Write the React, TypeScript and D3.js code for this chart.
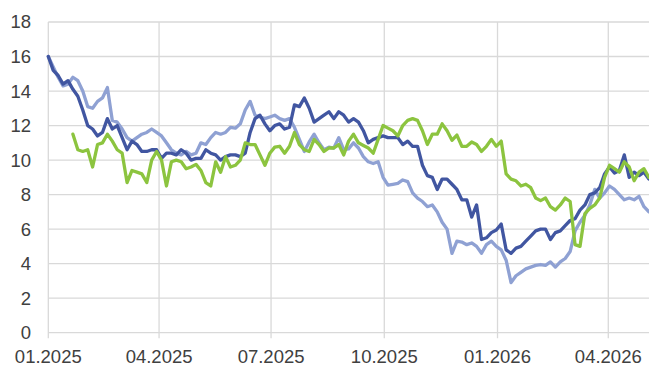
import React from 'react';
import * as d3 from 'd3';

// ---- data ----
const startDate = new Date(2025, 0, 1);
const endDate = new Date(2026, 4, 4);
const stepDays = 4;
const xTickDates = ['2025-01-01', '2025-04-01', '2025-07-01', '2025-10-01', '2026-01-01', '2026-04-01'];
const xTickLabels = ['01.2025', '04.2025', '07.2025', '10.2025', '01.2026', '04.2026'];
const yTicks = [0, 2, 4, 6, 8, 10, 12, 14, 16, 18];

const darkBlue: number[] = [
  16.0, 15.2, 14.9, 14.4, 14.6, 14.1, 13.7, 12.9, 12.0, 11.8,
  11.4, 11.6, 12.4, 11.8, 12.0, 11.3, 10.6, 11.1, 10.9, 10.5,
  10.5, 10.6, 10.6, 10.1, 10.4, 10.4, 10.3, 10.6, 10.4, 10.0,
  10.1, 10.1, 10.6, 10.4, 10.3, 10.0, 10.2, 10.3, 10.3, 10.2,
  10.4, 11.6, 12.4, 12.6, 12.1, 11.7, 12.0, 12.1, 11.8, 11.9,
  13.2, 13.1, 13.6, 13.0, 12.2, 12.4, 12.6, 12.8, 12.4, 12.8,
  12.6, 12.2, 12.4, 12.2, 11.7, 11.0, 11.2, 11.3, 11.4, 11.3,
  11.3, 11.3, 10.9, 11.1, 10.8, 10.8, 9.7, 9.1, 9.0, 8.3,
  8.9, 8.9, 8.6, 8.3, 7.7, 7.7, 6.7, 7.4, 5.4, 5.5,
  5.8, 5.95, 6.3, 4.8, 4.6, 4.9, 5.0, 5.3, 5.6, 5.9,
  6.0, 6.0, 5.4, 5.8, 5.9, 6.2, 6.5, 6.6, 7.1, 7.4,
  8.0, 8.1, 8.4, 9.2, 9.6, 9.25, 9.4, 10.3, 9.0, 9.3,
  9.1, 9.3, 8.9,
];

const lightBlue: number[] = [
  16.0, 15.4, 14.8, 14.3, 14.4, 14.8, 14.6, 14.0, 13.1, 13.0,
  13.4, 13.6, 14.2, 12.3, 12.2, 11.8, 11.3, 11.1, 11.3, 11.5,
  11.6, 11.8, 11.6, 11.4, 11.0, 10.6, 10.4, 10.3, 10.5, 10.3,
  10.4, 11.0, 10.9, 11.3, 11.6, 11.5, 11.6, 11.9, 11.85, 12.1,
  12.9, 13.4, 12.6, 12.5, 12.4, 12.5, 12.6, 12.4, 12.3, 12.4,
  11.9, 11.2, 10.5, 11.05, 11.5, 11.0, 10.6, 10.75, 10.7, 11.3,
  10.6, 10.65, 11.0, 10.7, 10.2, 9.9, 9.8, 9.9, 9.0, 8.55,
  8.6, 8.65, 8.85, 8.75, 8.1, 7.8, 7.6, 7.3, 7.4, 7.0,
  6.4, 6.0, 4.6, 5.3, 5.25, 5.1, 5.2, 5.0, 4.6, 5.1,
  5.3, 5.0, 4.8, 4.2, 2.9, 3.3, 3.5, 3.7, 3.8, 3.9,
  3.95, 3.9, 4.1, 3.8, 4.1, 4.3, 4.7, 5.9, 6.4, 6.8,
  7.4, 8.3, 7.8, 8.1, 8.5, 8.3, 8.0, 7.7, 7.8, 7.7,
  7.9, 7.3, 7.0,
];

const green: (number | null)[] = [
  null, null, null, null, null, 11.5, 10.6, 10.5, 10.6, 9.6,
  10.9, 11.0, 11.5, 11.1, 10.6, 10.4, 8.7, 9.4, 9.3, 9.2,
  8.7, 10.0, 10.5, 10.0, 8.5, 9.9, 10.0, 9.9, 9.5, 9.6,
  9.75, 9.4, 8.7, 8.5, 9.9, 9.3, 10.2, 9.6, 9.7, 10.0,
  11.0, 10.9, 10.9, 10.3, 9.7, 10.4, 10.75, 10.8, 10.4, 10.8,
  11.6, 10.9, 10.6, 10.5, 11.2, 10.9, 10.5, 10.7, 10.7, 10.9,
  10.3, 11.1, 11.5, 11.0, 10.85, 10.7, 10.4, 11.2, 12.0, 11.85,
  11.7, 11.4, 12.0, 12.3, 12.4, 12.3, 11.7, 10.9, 11.5, 11.5,
  12.1, 11.7, 11.15, 11.45, 10.8, 10.8, 11.05, 10.9, 10.5, 10.8,
  11.2, 10.8, 11.1, 9.2, 8.9, 8.8, 8.5, 8.6, 8.4, 7.8,
  7.65, 7.8, 7.3, 7.1, 7.4, 7.8, 7.6, 5.1, 5.0, 6.9,
  7.2, 7.4, 7.8, 9.0, 9.7, 9.5, 9.3, 9.9, 9.6, 8.8,
  9.3, 9.5, 9.0,
];

// ---- layout ----
const W = 649;
const H = 367;
const plotLeft = 48.3;
const plotRight = 648.9;
const plotTop = 22;
const plotBottom = 332.7;

const colors = { dark: '#4156a1', light: '#8fa1d3', green: '#8cc43f', grid: '#d9d9d9', text: '#404040' };

export default function App() {
  const x = d3.scaleTime().domain([startDate, endDate]).range([plotLeft, plotRight]);
  const y = d3.scaleLinear().domain([0, 18]).range([plotBottom, plotTop]);
  const dates = darkBlue.map((_, i) => d3.timeDay.offset(startDate, i * stepDays));
  const parse = d3.timeParse('%Y-%m-%d');

  const line = d3
    .line<number | null>()
    .defined((d) => d != null)
    .x((_, i) => x(dates[i]))
    .y((d) => y(d as number))
    .curve(d3.curveLinear);

  const font = '"Liberation Sans", Arial, sans-serif';

  return (
    <svg width={W} height={H} style={{ position: 'absolute', left: 0, top: 0, display: 'block', background: '#fff' }}>
      <defs>
        <clipPath id="plotclip">
          <rect x={0} y={0} width={W} height={plotBottom} />
        </clipPath>
      </defs>
      {yTicks.map((t) => (
        <line key={'h' + t} x1={plotLeft} x2={W} y1={y(t)} y2={y(t)} stroke={colors.grid} strokeWidth={1.3} />
      ))}
      {xTickDates.map((d) => {
        const xx = x(parse(d) as Date);
        return <line key={'v' + d} x1={xx} x2={xx} y1={plotTop} y2={plotBottom + 5.5} stroke={colors.grid} strokeWidth={1.3} />;
      })}
      {yTicks.map((t) => (
        <text key={'yl' + t} x={31} y={y(t)} dy="0.35em" textAnchor="end" fontFamily={font} fontSize={18.5} fill={colors.text}>
          {t}
        </text>
      ))}
      {xTickDates.map((d, i) => (
        <text key={'xl' + d} x={x(parse(d) as Date)} y={363} textAnchor="middle" fontFamily={font} fontSize={18.5} fill={colors.text}>
          {xTickLabels[i]}
        </text>
      ))}
      <g clipPath="url(#plotclip)" fill="none" strokeWidth={3.3} strokeLinejoin="round" strokeLinecap="round">
        <path d={line(lightBlue) || ''} stroke={colors.light} />
        <path d={line(darkBlue) || ''} stroke={colors.dark} />
        <path d={line(green) || ''} stroke={colors.green} />
      </g>
    </svg>
  );
}
